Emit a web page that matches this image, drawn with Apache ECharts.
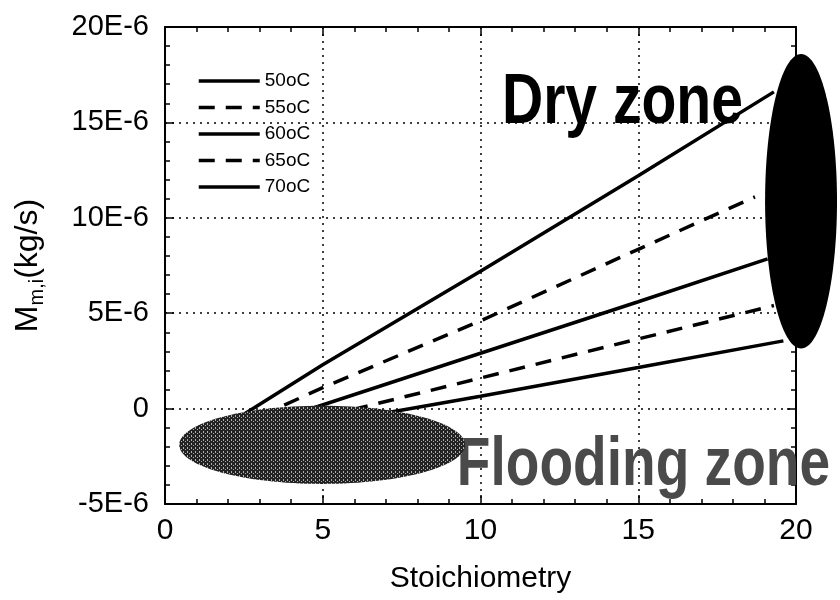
<!DOCTYPE html>
<html><head><meta charset="utf-8">
<script src="https://cdn.jsdelivr.net/npm/echarts@6/dist/echarts.min.js"></script>
<style>html,body{margin:0;padding:0;background:#fff}#c{width:840px;height:600px}</style>
</head><body><div id="c"></div>
<script>
// ---- data (y values in units of 1E-6 kg/s) ----
const seriesNames = ['50oC', '55oC', '60oC', '65oC', '70oC'];
const line50 = [[2.4, -0.4], [5, 2.3], [10, 7.2], [15, 12.2], [19.3, 16.6]];
const line55 = [[3.0, -0.4], [5, 1.1], [10, 4.6], [15, 8.35], [18.7, 11.1]];
const line60 = [[3.9, -0.4], [10, 2.9], [15, 5.6], [19.1, 7.85]];
const line65 = [[5.1, -0.4], [10, 1.6], [15, 3.65], [19.3, 5.4]];
const line70 = [[6.4, -0.4], [10, 0.65], [15, 2.15], [19.6, 3.55]];
const xTickLabels = ['0', '5', '10', '15', '20'];
const yTickLabels = ['-5E-6', '0', '5E-6', '10E-6', '15E-6', '20E-6'];
// ellipses: [centerX, centerY, radiusX, radiusY]
const floodEllipse = [4.98, -1.9, 4.53, 2.05];
const dryEllipse = [20.16, 10.87, 1.14, 7.72];
// annotations: [text, x, y]
const dryLabel = ['Dry zone', 10.68, 16.0];
const floodLabel = ['Flooding zone', 9.25, -3.0];

const lineData = [line50, line55, line60, line65, line70];
const lineTypes = ['solid', [16, 11], 'solid', [16, 11], 'solid'];

// stipple pattern for flooding zone
const pc = document.createElement('canvas');
pc.width = 4; pc.height = 4;
const pctx = pc.getContext('2d');
pctx.fillStyle = '#222'; pctx.fillRect(0, 0, 4, 4);
pctx.fillStyle = '#b0b0b0';
pctx.fillRect(1, 1, 1, 1); pctx.fillRect(3, 3, 1, 1); pctx.fillRect(3, 0, 1, 1);
const floodFill = { image: pc, repeat: 'repeat' };

const FONT = 'Liberation Sans';
const chart = echarts.init(document.getElementById('c'), null, { renderer: 'canvas' });

const series = seriesNames.map((n, i) => ({
  name: n, type: 'line', data: lineData[i], symbol: 'none', z: 2,
  lineStyle: { color: '#000', width: 3.5, type: lineTypes[i] },
  itemStyle: { color: 'rgba(0,0,0,0)', opacity: 0 }
}));

series.push({
  type: 'custom', z: 3, clip: false, silent: true,
  data: [floodEllipse, dryEllipse],
  renderItem: function (params, api) {
    const c = api.coord([api.value(0), api.value(1)]);
    const s = api.size([api.value(2), api.value(3)]);
    return {
      type: 'ellipse',
      shape: { cx: c[0], cy: c[1], rx: s[0], ry: s[1] },
      style: { fill: params.dataIndex === 0 ? floodFill : '#000' }
    };
  }
});
series.push({
  type: 'custom', z: 1, clip: false, silent: true,
  data: [[dryLabel[1], dryLabel[2]], [floodLabel[1], floodLabel[2]]],
  renderItem: function (params, api) {
    const c = api.coord([api.value(0), api.value(1)]);
    const isDry = params.dataIndex === 0;
    return {
      type: 'text', x: c[0], y: c[1], scaleX: isDry ? 0.815 : 0.81, scaleY: 1,
      style: {
        text: isDry ? dryLabel[0] : floodLabel[0],
        font: isDry ? 'bold 70px "Liberation Sans"' : 'bold 68px "Liberation Sans"',
        fill: isDry ? '#000' : '#4a4a4a',
        align: 'left', verticalAlign: 'middle'
      }
    };
  }
});

const axisLine = { show: true, onZero: false, lineStyle: { color: '#000', width: 2 } };
const tick = { show: true, inside: true, length: 9, lineStyle: { color: '#000', width: 1.5 } };
const minor = { show: true, splitNumber: 5, length: 5, lineStyle: { color: '#000', width: 1.5 } };
const grid = { show: true, lineStyle: { color: '#000', width: 1.5, type: [2, 5] } };

chart.setOption({
  animation: false,
  backgroundColor: '#fff',
  grid: { left: 165, right: 44, top: 27, bottom: 96, containLabel: false },
  legend: {
    data: seriesNames, orient: 'vertical', left: 197, top: 71, padding: 0,
    itemWidth: 61, itemHeight: 20, itemGap: 6.5,
    itemStyle: { opacity: 0 },
    lineStyle: { width: 3.5, color: '#000' },
    textStyle: { fontFamily: FONT, fontSize: 19, color: '#000', lineHeight: 20 }
  },
  xAxis: [{
    type: 'value', min: 0, max: 20, interval: 5,
    name: 'Stoichiometry', nameLocation: 'middle', nameGap: 60,
    nameTextStyle: { fontFamily: FONT, fontSize: 30, color: '#000' },
    axisLine: axisLine, axisTick: tick, minorTick: minor, splitLine: grid,
    axisLabel: { fontFamily: FONT, fontSize: 30, color: '#000', margin: 12,
      formatter: v => xTickLabels[Math.round(v / 5)] }
  }, {
    type: 'value', min: 0, max: 20, interval: 5, position: 'top',
    axisLine: axisLine, axisTick: tick, minorTick: minor, splitLine: { show: false },
    axisLabel: { show: false }
  }],
  yAxis: [{
    type: 'value', min: -5, max: 20, interval: 5,
    name: '{a|M}{b|m,i}{a|(kg/s)}', nameLocation: 'middle', nameGap: 118, nameRotate: 90,
    nameTextStyle: {
      rich: {
        a: { fontFamily: FONT, fontSize: 32, color: '#000', lineHeight: 38 },
        b: { fontFamily: FONT, fontSize: 20, color: '#000', lineHeight: 20, verticalAlign: 'bottom' }
      }
    },
    axisLine: axisLine, axisTick: tick, minorTick: minor, splitLine: grid,
    axisLabel: { fontFamily: FONT, fontSize: 29, color: '#000', margin: 16,
      formatter: v => yTickLabels[Math.round((v + 5) / 5)] }
  }, {
    type: 'value', min: -5, max: 20, interval: 5, position: 'right',
    axisLine: axisLine, axisTick: tick, minorTick: minor, splitLine: { show: false },
    axisLabel: { show: false }
  }],
  series: series
});
</script>
</body></html>
